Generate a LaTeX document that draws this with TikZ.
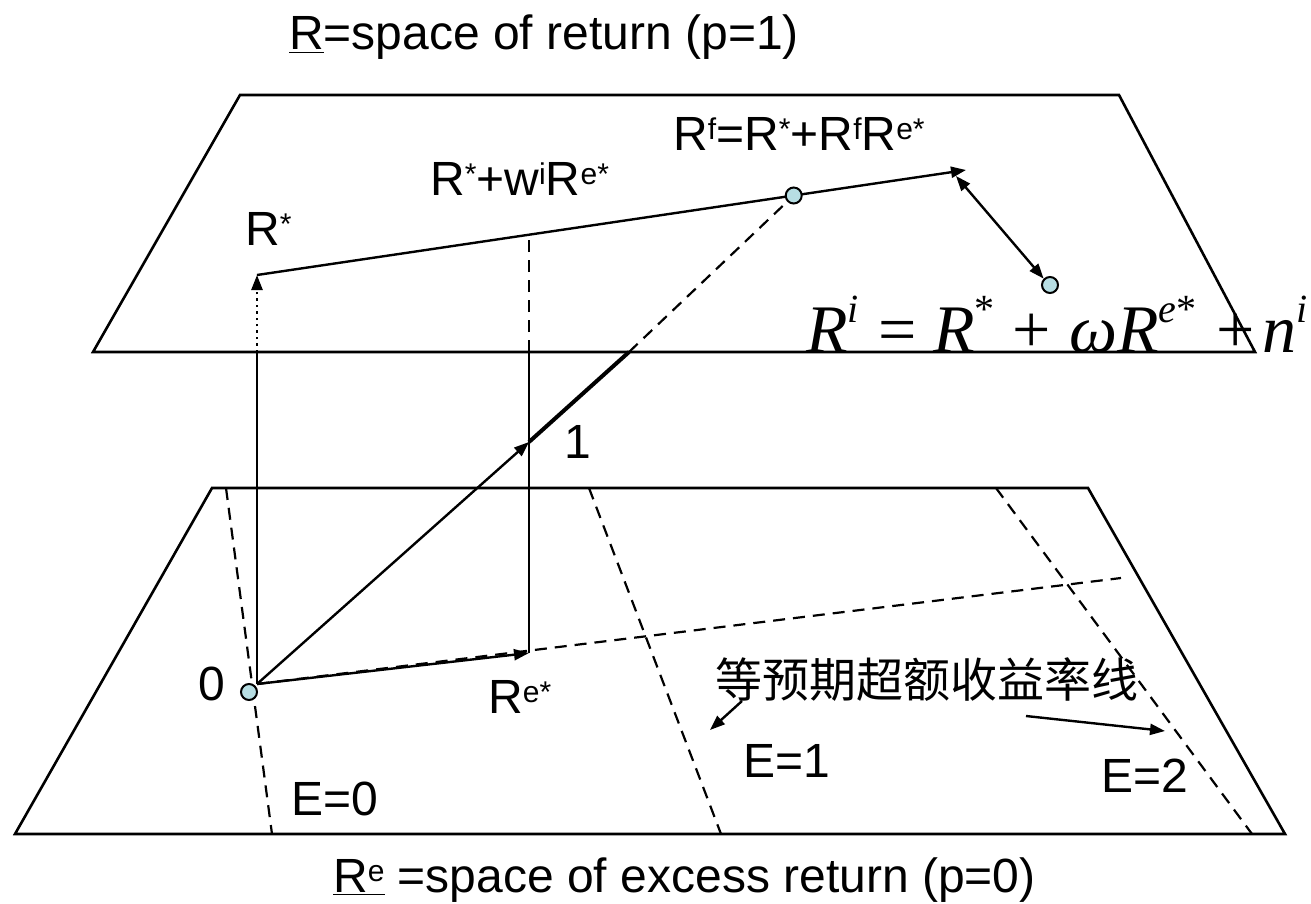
\documentclass[tikz,border=0pt]{standalone}
\usepackage{fontspec}
\setmainfont{Liberation Sans}
\newfontfamily\eqfont{Liberation Serif}
\newfontfamily\cjkfont{Noto Sans CJK SC}
\usetikzlibrary{arrows.meta, calc}
\definecolor{cdot}{HTML}{B7DEE3}
\newcommand\sups[1]{\raisebox{5.5pt}{\fontsize{15}{15}\selectfont #1}}
\newcommand\eqsup[1]{\raisebox{15pt}{\fontsize{20}{20}\selectfont #1}}
\tikzset{
  every picture/.style={x=0.5pt, y=-0.5pt, line width=1.2pt},
  plane/.style={draw, line width=1.3pt, line join=miter},
  arrow/.style={-{Triangle[length=7.5pt, width=5.5pt]}, line width=1.2pt},
  twoway/.style={{Triangle[length=7.5pt, width=5.5pt]}-{Triangle[length=7.5pt, width=5.5pt]}, line width=1.2pt},
  guide/.style={dash pattern=on 6pt off 4pt, line width=1.1pt},
  dot/.style={circle, draw, fill=cdot, line width=1pt, minimum size=8pt, inner sep=0pt},
  lbl/.style={font=\fontsize{24}{28}\selectfont, inner sep=0pt, anchor=base west},
  eqn/.style={font=\eqfont\fontsize{34}{40}\selectfont, inner sep=0pt, anchor=base west},
}
\begin{document}
\begin{tikzpicture}
  \useasboundingbox (0,0) rectangle (1311,904);
  % the two planes
  \draw[plane] (240,95) -- (1119,95) -- (1255,352) -- (93,352) -- cycle;
  \draw[plane] (212,488) -- (1088,488) -- (1285,834) -- (15,834) -- cycle;
  % points
  \coordinate (base) at (257,684);
  \coordinate (rs) at (257,275);
  \coordinate (end) at (966,170);
  \coordinate (one) at (529,442);
  \coordinate (re) at (529,653);
  \coordinate (rsfoot) at (257,352);
  \coordinate (refoot) at (529,352);
  \coordinate (onefoot) at (629,352);
  \coordinate (mid) at (529,235);
  % lines of equal expected excess return
  \draw[guide] (226,488) -- (272,834);
  \draw[guide] (589,488) -- (721,834);
  \draw[guide] (996,488) -- (1252,834);
  \draw[guide] (base) -- (1121,578);
  % vectors
  \draw (base) -- (rsfoot);
  \draw[arrow, dotted] (rsfoot) -- (rs);
  \draw[arrow] (rs) -- (end);
  \draw[arrow] (base) -- (one);
  \draw[line width=2pt] (one) -- (onefoot);
  \draw[arrow] (base) -- (re);
  \draw (re) -- (refoot);
  \draw[guide] (refoot) -- (mid);
  \node[dot] (rf) at ($(rs)!0.757!(end)$) {};
  \draw[guide] (onefoot) -- (rf);
  \node[dot] (ri) at (1050,285) {};
  \draw[twoway] (956,176) -- (ri.north west);
  \node[dot] (o) at (249,692) {};
  % labels
  \node[lbl] (ttl) at (288,50) {\underline{R}=space of return (p=1)};
  \node[lbl] (lrs) at (244,245) {R\sups{*}};
  \node[lbl] (lmid) at (429,195) {R\sups{*}+w\sups{i}R\sups{e*}};
  \node[lbl] (lrf) at (672,150) {R\sups{f}=R\sups{*}+R\sups{f}R\sups{e*}};
  \node[lbl] (lone) at (563,458) {1};
  \node[lbl] (lzero) at (197,700) {0};
  \node[lbl] (lre) at (487,713) {R\sups{e*}};
  \node[lbl] (le0) at (290,815) {E=0};
  \node[lbl] (le1) at (742,777) {E=1};
  \node[lbl] (le2) at (1100,792) {E=2};
  \node[lbl] (lsub) at (332,892) {\underline{R\sups{e}} =space of excess return (p=0)};
  \node[eqn] (leq) at (805,352) {\itshape R\eqsup{i}\hspace{10pt}\upshape=\hspace{8pt}\itshape R\eqsup{\upshape *}\hspace{9pt}\upshape+\hspace{9pt}\itshape ωR\eqsup{e\upshape *}\hspace{10pt}\upshape+\hspace{4pt}\itshape n\eqsup{i}};
  \node[lbl, font=\cjkfont\fontsize{23.5}{28}\selectfont] (lcn) at (714,697) {等预期超额收益率线};
  \coordinate (a1s) at (742,701);
  \coordinate (a1e) at (710,730);
  \coordinate (a2s) at (1026,716);
  \coordinate (a2e) at (1165,731);
  \draw[arrow] (a1s) -- (a1e);
  \draw[arrow] (a2s) -- (a2e);
\end{tikzpicture}
\end{document}
